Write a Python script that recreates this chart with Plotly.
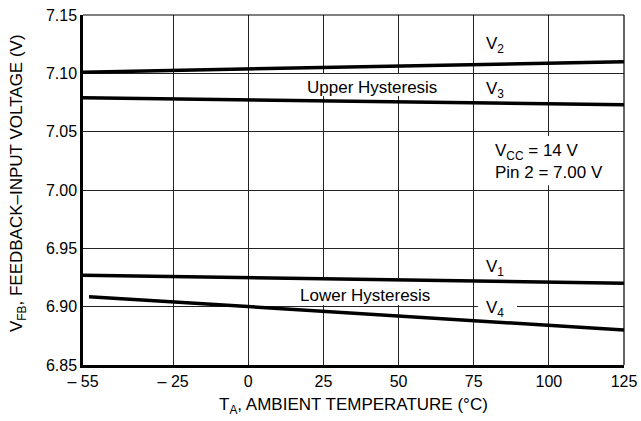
import plotly.graph_objects as go

# Data
temp_c = [-55, 125]
v2_upper = [7.101, 7.110]
v3_upper = [7.079, 7.073]
v1_lower = [6.927, 6.920]
temp_v4 = [-53, 125]
v4_lower = [6.9086, 6.880]

x_tickvals = [-55, -25, 0, 25, 50, 75, 100, 125]
x_ticktext = ["\u2013 55", "\u2013 25", "0", "25", "50", "75", "100", "125"]
y_tickvals = [6.85, 6.90, 6.95, 7.00, 7.05, 7.10, 7.15]

FONT = "Liberation Sans, Arial, sans-serif"
LW = 3.5

fig = go.Figure()
for xs, ys, name in [(temp_c, v2_upper, "V2"), (temp_c, v3_upper, "V3"),
                     (temp_c, v1_lower, "V1"), (temp_v4, v4_lower, "V4")]:
    fig.add_trace(go.Scatter(x=xs, y=ys, mode="lines", name=name,
                             line=dict(color="black", width=LW),
                             showlegend=False, hoverinfo="skip"))

# white boxes that interrupt the grid behind labels
boxes = [
    (17.2, 68.1, 7.0806, 7.0994),   # Upper Hysteresis
    (13.9, 63.8, 6.9015, 6.9246),   # Lower Hysteresis
    (76.4, 89.4, 6.892, 6.9074),    # V4 label
    (80.4, 118.7, 7.004, 7.0463),   # Vcc note
]
shapes = []
for x0, x1, y0, y1 in boxes:
    shapes.append(dict(type="rect", xref="x", yref="y", x0=x0, x1=x1, y0=y0, y1=y1,
                       fillcolor="white", line=dict(width=0), layer="between"))
# thin top and right frame
shapes.append(dict(type="line", xref="paper", yref="paper", x0=0, x1=1, y0=1, y1=1,
                   line=dict(color="black", width=1.2)))
shapes.append(dict(type="line", xref="paper", yref="paper", x0=1, x1=1, y0=0, y1=1,
                   line=dict(color="black", width=1.2)))

annotations = [
    dict(x=78.4, y=7.124, text="V<sub>2</sub>", xanchor="left"),
    dict(x=78.4, y=7.0857, text="V<sub>3</sub>", xanchor="left"),
    dict(x=41.2, y=7.088, text="Upper Hysteresis", xanchor="center"),
    dict(x=81.5, y=7.0245, text="V<sub>CC</sub> = 14 V<br>Pin 2 = 7.00 V", xanchor="left", align="left"),
    dict(x=78.4, y=6.933, text="V<sub>1</sub>", xanchor="left"),
    dict(x=78.4, y=6.898, text="V<sub>4</sub>", xanchor="left"),
    dict(x=38.8, y=6.910, text="Lower Hysteresis", xanchor="center"),
]
for a in annotations:
    a.update(xref="x", yref="y", showarrow=False, yanchor="middle",
             font=dict(family=FONT, size=17, color="black"))

# axis titles as paper-positioned annotations
annotations.append(dict(xref="paper", yref="paper", x=0.5, y=-0.118,
                        text="T<sub>A</sub>, AMBIENT TEMPERATURE (\u00b0C)",
                        showarrow=False, xanchor="center", yanchor="middle",
                        font=dict(family=FONT, size=17, color="black")))
annotations.append(dict(xref="paper", yref="paper", x=-0.12, y=0.52,
                        text="V<sub>FB</sub>, FEEDBACK\u2013INPUT VOLTAGE (V)",
                        textangle=-90, showarrow=False, xanchor="center", yanchor="middle",
                        font=dict(family=FONT, size=17, color="black")))

fig.update_layout(
    width=641, height=421,
    margin=dict(l=83, r=17, t=15, b=56, autoexpand=False),
    paper_bgcolor="white", plot_bgcolor="white",
    font=dict(family=FONT, size=16, color="black"),
    shapes=shapes, annotations=annotations,
    xaxis=dict(range=[-55, 125], tickmode="array", tickvals=x_tickvals, ticktext=x_ticktext,
               showline=True, linecolor="black", linewidth=2.5,
               showgrid=True, gridcolor="#222", gridwidth=1, zeroline=False,
               ticks="", tickfont=dict(size=16), automargin=False),
    yaxis=dict(range=[6.85, 7.15], tickmode="array", tickvals=y_tickvals, tickformat=".2f",
               showline=True, linecolor="black", linewidth=2.5,
               showgrid=True, gridcolor="#222", gridwidth=1, zeroline=False,
               ticks="", tickfont=dict(size=16), automargin=False),
)

fig.write_html("out.html", config={"displayModeBar": False},
               post_script="document.body.style.margin='0';document.body.style.overflow='hidden';")
